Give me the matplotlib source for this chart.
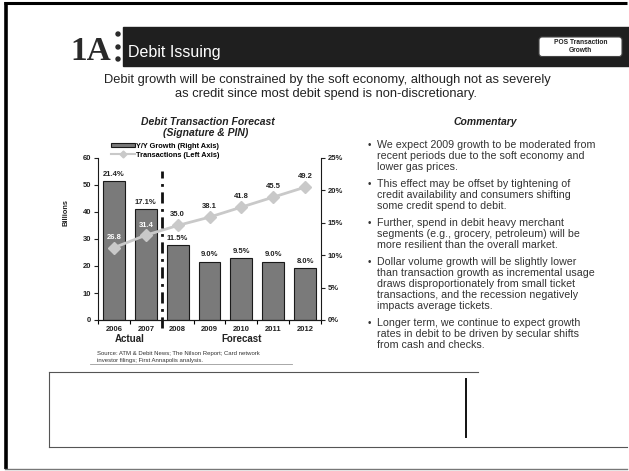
import matplotlib
matplotlib.use("Agg")
import matplotlib.pyplot as plt
import matplotlib.transforms as mtransforms
from matplotlib.patches import Rectangle, FancyBboxPatch, Circle, Patch
from matplotlib.lines import Line2D
import numpy as np

# ---- data -------------------------------------------------------------
years = ["2006", "2007", "2008", "2009", "2010", "2011", "2012"]
transactions = [26.8, 31.4, 35.0, 38.1, 41.8, 45.5, 49.2]   # billions
yoy_growth = [21.4, 17.1, 11.5, 9.0, 9.5, 9.0, 8.0]          # percent
left_ticks = [0, 10, 20, 30, 40, 50, 60]
right_ticks = [0, 5, 10, 15, 20, 25]
n_actual = 2

bullets = [
    ["We expect 2009 growth to be moderated from",
     "recent periods due to the soft economy and",
     "lower gas prices."],
    ["This effect may be offset by tightening of",
     "credit availability and consumers shifting",
     "some credit spend to debit."],
    ["Further, spend in debit heavy merchant",
     "segments (e.g., grocery, petroleum) will be",
     "more resilient than the overall market."],
    ["Dollar volume growth will be slightly lower",
     "than transaction growth as incremental usage",
     "draws disproportionately from small ticket",
     "transactions, and the recession negatively",
     "impacts average tickets."],
    ["Longer term, we continue to expect growth",
     "rates in debit to be driven by secular shifts",
     "from cash and checks."],
]

W, H = 629, 471
plt.rcParams['font.family'] = ['Liberation Sans', 'DejaVu Sans']
fig = plt.figure(figsize=(W / 100, H / 100), dpi=100)
fig.patch.set_facecolor('white')

# full-page layer in pixel units for the slide furniture
bg = fig.add_axes([0, 0, 1, 1])
bg.set_xlim(0, W)
bg.set_ylim(H, 0)
bg.axis('off')

# page frame
bg.plot([4, 627], [3, 3], color='black', lw=2.2, solid_capstyle='butt')
bg.plot([5.5, 5.5], [2, 469], color='black', lw=2.6, solid_capstyle='butt')
bg.plot([5, 627], [469, 469], color='#777777', lw=1.0)

# logo
bg.text(70, 60, "1A", fontsize=24, fontweight='bold', family='Liberation Serif',
        color='#2a2a2a', va='baseline', ha='left')
for yy in (34, 47, 59):
    bg.add_patch(Circle((118, yy), 2.0, color='#2a2a2a'))

# header bar
bg.add_patch(Rectangle((123, 27), 506, 39, color='#1f1f1f'))
bg.text(128, 57, "Debit Issuing", color='white', fontsize=11.5, va='baseline', ha='left')
bg.add_patch(FancyBboxPatch((539, 37), 83, 19.5,
                            boxstyle='round,pad=0,rounding_size=3',
                            fc='white', ec='#444444', lw=0.8))
bg.text(580.5, 43, "POS Transaction", fontsize=4.8, fontweight='bold',
        ha='center', va='center', color='#222222')
bg.text(580.5, 50.5, "Growth", fontsize=4.8, fontweight='bold',
        ha='center', va='center', color='#222222')

# subtitle
bg.text(327, 80, "Debit growth will be constrained by the soft economy, although not as severely",
        ha='center', va='center', fontsize=9.3, color='#222222')
bg.text(326, 94, "as credit since most debit spend is non-discretionary.",
        ha='center', va='center', fontsize=9.3, color='#222222')

# chart title
bg.text(208, 122, "Debit Transaction Forecast", ha='center', va='center',
        fontsize=7.5, fontweight='bold', fontstyle='italic', color='#222222')
bg.text(206, 133, "(Signature & PIN)", ha='center', va='center',
        fontsize=7.5, fontweight='bold', fontstyle='italic', color='#222222')

# ---- chart ------------------------------------------------------------
ax = fig.add_axes([98 / W, 1 - 320 / H, 223 / W, 162 / H])
ax2 = ax.twinx()
ax.set_zorder(ax2.get_zorder() + 1)
ax.patch.set_visible(False)

x = np.arange(len(years))
bar_color = '#7a7a7a'
line_color = '#c9c9c9'

ax2.bar(x, yoy_growth, width=0.69, color=bar_color, edgecolor='#1a1a1a', lw=0.8)
ax.plot(x, transactions, color=line_color, lw=2.0, marker='D', ms=6,
        mfc=line_color, mec=line_color)

ax.set_xlim(-0.5, len(years) - 0.5)
ax.set_ylim(0, 60)
ax2.set_ylim(0, 25)

for a in (ax, ax2):
    a.spines['top'].set_visible(False)
    for s in a.spines.values():
        s.set_linewidth(0.8)
        s.set_color('#1a1a1a')
ax.spines['right'].set_visible(False)
ax2.spines['left'].set_visible(False)

ax.set_yticks(left_ticks, labels=[str(v) for v in left_ticks],
              fontsize=5.5, fontweight='bold')
ax2.set_yticks(right_ticks, labels=[f"{v}%" for v in right_ticks],
               fontsize=5.5, fontweight='bold')
ax.tick_params(axis='y', direction='out', length=3, width=0.8, pad=2, colors='#222222')
ax2.tick_params(axis='y', direction='out', length=3, width=0.8, pad=2, colors='#222222')

ax.set_xticks(x, labels=years, fontsize=5.5, fontweight='bold')
ax.set_xticks(np.arange(-0.5, len(years)), minor=True)
ax.tick_params(axis='x', which='major', length=0, pad=4, colors='#222222')
ax.tick_params(axis='x', which='minor', length=3, width=0.8, direction='out')

# growth labels over bars
for xi, g in zip(x, yoy_growth):
    ax2.annotate(f"{g:.1f}%", (xi, g), xytext=(0, 5), textcoords='offset points',
                 ha='center', va='center', fontsize=5.5, fontweight='bold',
                 color='#222222')

# transaction labels over line points (inside the tall bars they read in white)
for i, (xi, t) in enumerate(zip(x, transactions)):
    inside = i < n_actual
    ax.annotate(f"{t:.1f}", (xi, t), xytext=(0, 7 if inside else 8),
                textcoords='offset points', ha='center', va='center',
                fontsize=5.5, fontweight='bold',
                color='white' if inside else '#222222')

# actual / forecast divider
ax.plot([n_actual - 0.5, n_actual - 0.5], [-3, 55], color='#111111', lw=2.0,
        linestyle=(0, (4, 2, 1, 2)), clip_on=False)

tr = mtransforms.blended_transform_factory(ax.transData, ax.transAxes)
ax.text((n_actual - 1) / 2, -0.118, "Actual", transform=tr, ha='center', va='center',
        fontsize=7, fontweight='bold', color='#222222')
ax.text((n_actual + len(years) - 1) / 2, -0.118, "Forecast", transform=tr,
        ha='center', va='center', fontsize=7, fontweight='bold', color='#222222')

bg.text(66, 213, "Billions", rotation=90, ha='center', va='center',
        fontsize=5.3, fontweight='bold', color='#222222')

handles = [Patch(fc=bar_color, ec='#1a1a1a', lw=0.8),
           Line2D([], [], color=line_color, lw=1.5, marker='D', ms=3.5)]
fig.legend(handles, ["Y/Y Growth (Right Axis)", "Transactions (Left Axis)"],
           loc='upper left', bbox_to_anchor=(111 / W, 1 - 143 / H),
           frameon=False, prop={'size': 5.3, 'weight': 'bold'},
           handlelength=3.2, handleheight=0.5, labelspacing=0.25,
           handletextpad=0.2, borderpad=0, borderaxespad=0)

# source note
bg.text(97, 354, "Source: ATM & Debit News; The Nilson Report; Card network",
        fontsize=4.3, va='center', color='#333333')
bg.text(97, 360.5, "investor filings; First Annapolis analysis.",
        fontsize=4.3, va='center', color='#333333')
bg.plot([90, 292], [364, 364], color='#9a9a9a', lw=0.6)

# ---- commentary -------------------------------------------------------
bg.text(485, 122, "Commentary", ha='center', va='center', fontsize=7.5,
        fontweight='bold', fontstyle='italic', color='#222222')
y = 145
for lines in bullets:
    bg.text(369, y, "\u2022", ha='center', va='center', fontsize=7, color='#333333')
    for ln in lines:
        bg.text(377, y, ln, ha='left', va='center', fontsize=7.7, color='#333333')
        y += 11
    y += 6

# ---- footer box -------------------------------------------------------
bg.plot([49, 478], [372, 372], color='#555555', lw=0.8)
bg.plot([49, 49], [372, 447], color='#555555', lw=0.8)
bg.plot([49, 627], [447, 447], color='#555555', lw=0.8)
bg.plot([466, 466], [379, 437], color='#111111', lw=1.4)

fig.savefig("out.png", dpi=100, facecolor='white')
